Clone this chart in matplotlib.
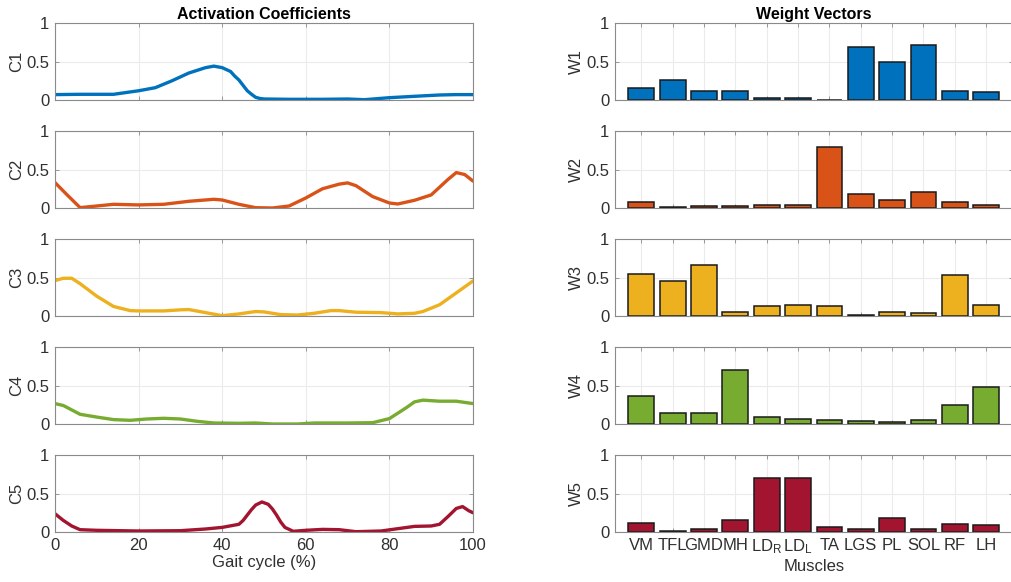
import matplotlib
matplotlib.use("Agg")
import matplotlib.pyplot as plt
import numpy as np

plt.rcParams['font.family'] = ['Liberation Sans', 'DejaVu Sans']
plt.rcParams['mathtext.default'] = 'regular'

# activation coefficients over the gait cycle (%), one series per synergy
c1_x = [0, 6, 14, 20, 24, 28, 32, 36, 38, 40, 42, 43, 44, 45, 46, 47, 48, 49, 50, 56, 64, 70,
        74, 80, 86, 92, 96, 100]
c1_y = [0.07, 0.074, 0.074, 0.12, 0.16, 0.25, 0.35, 0.42, 0.44, 0.42, 0.37, 0.31, 0.26, 0.19,
        0.12, 0.075, 0.035, 0.02, 0.013, 0.009, 0.009, 0.013, 0.004, 0.03, 0.048, 0.065, 0.07, 0.07]

c2_x = [0, 3, 6, 10, 14, 20, 26, 32, 38, 40, 44, 48, 52, 56, 60, 64, 68, 70, 72, 76, 80, 82,
        86, 90, 94, 96, 98, 100]
c2_y = [0.33, 0.165, 0.005, 0.026, 0.048, 0.04, 0.048, 0.087, 0.113, 0.104, 0.048, 0.004, 0.0,
        0.026, 0.13, 0.25, 0.31, 0.326, 0.29, 0.148, 0.065, 0.052, 0.1, 0.17, 0.37, 0.46, 0.435, 0.35]

c3_x = [0, 2, 4, 6, 10, 14, 18, 20, 26, 30, 32, 36, 40, 44, 48, 50, 54, 58, 62, 66, 68, 72,
        78, 82, 86, 88, 92, 96, 100]
c3_y = [0.46, 0.49, 0.49, 0.42, 0.257, 0.124, 0.07, 0.066, 0.066, 0.08, 0.084, 0.044, 0.004,
        0.027, 0.058, 0.053, 0.018, 0.013, 0.035, 0.07, 0.07, 0.049, 0.044, 0.027, 0.035, 0.058,
        0.146, 0.3, 0.455]

c4_x = [0, 2, 6, 10, 14, 18, 22, 26, 30, 34, 38, 44, 48, 52, 58, 62, 70, 76, 80, 84, 86, 88,
        92, 96, 100]
c4_y = [0.265, 0.24, 0.126, 0.09, 0.057, 0.048, 0.065, 0.074, 0.065, 0.035, 0.013, 0.009, 0.013,
        0.0, 0.0, 0.013, 0.013, 0.017, 0.07, 0.21, 0.287, 0.31, 0.296, 0.296, 0.265]

c5_x = [0, 2, 4, 6, 10, 20, 30, 36, 40, 44, 45, 46, 47, 48, 49.5, 51, 52, 53, 54, 55, 57, 60,
        64, 68, 72, 78, 82, 86, 90, 92, 94, 96, 97.5, 99, 100]
c5_y = [0.237, 0.15, 0.078, 0.03, 0.022, 0.013, 0.017, 0.039, 0.06, 0.1, 0.15, 0.22, 0.29, 0.35,
        0.39, 0.36, 0.3, 0.22, 0.13, 0.06, 0.009, 0.022, 0.034, 0.03, 0.004, 0.013, 0.043, 0.073,
        0.078, 0.1, 0.2, 0.306, 0.33, 0.276, 0.25]

# muscle weights per synergy
muscles = ['VM', 'TFL', 'GMD', 'MH', 'LD$_R$', 'LD$_L$', 'TA', 'LGS', 'PL', 'SOL', 'RF', 'LH']
w1 = [0.16, 0.26, 0.12, 0.115, 0.02, 0.02, 0.005, 0.69, 0.49, 0.71, 0.12, 0.11]
w2 = [0.08, 0.013, 0.03, 0.026, 0.04, 0.043, 0.797, 0.185, 0.108, 0.207, 0.073, 0.034]
w3 = [0.54, 0.45, 0.665, 0.047, 0.125, 0.137, 0.13, 0.017, 0.047, 0.034, 0.536, 0.146]
w4 = [0.366, 0.142, 0.147, 0.707, 0.086, 0.069, 0.047, 0.039, 0.026, 0.052, 0.246, 0.483]
w5 = [0.112, 0.017, 0.034, 0.15, 0.707, 0.707, 0.065, 0.034, 0.185, 0.043, 0.103, 0.086]

curves = [(c1_x, c1_y), (c2_x, c2_y), (c3_x, c3_y), (c4_x, c4_y), (c5_x, c5_y)]
weights = [w1, w2, w3, w4, w5]
colors = ['#0072BD', '#D95319', '#EDB120', '#77AC30', '#A2142F']

W, H = 1011, 582
fig = plt.figure(figsize=(W / 100, H / 100), dpi=100)

tops = [23, 131, 239, 347, 455]
ph = 77
txt = '#303030'
edge = '#8a8a8a'


def style(ax):
    ax.set_ylim(0, 1)
    ax.set_yticks([0, 0.5, 1])
    ax.set_yticklabels(['0', '0.5', '1'])
    ax.grid(True, color='#ebebeb', linewidth=0.8)
    ax.set_axisbelow(True)
    for s in ax.spines.values():
        s.set_color(edge)
        s.set_linewidth(0.8)
    ax.tick_params(direction='in', length=3, width=0.6, color=edge, labelcolor=txt,
                   labelsize=12, top=True, right=True, pad=4)


x_pos = np.arange(1, len(muscles) + 1)
for i in range(5):
    b = 1 - (tops[i] + ph) / H
    # left column: activation coefficients
    ax = fig.add_axes([55 / W, b, (473 - 55) / W, ph / H])
    ax.plot(curves[i][0], curves[i][1], color=colors[i], linewidth=2.4,
            solid_capstyle='round', solid_joinstyle='round')
    ax.set_xlim(0, 100)
    ax.set_xticks([0, 20, 40, 60, 80, 100])
    style(ax)
    ax.set_ylabel('C%d' % (i + 1), fontsize=12, color=txt, labelpad=2)
    if i < 4:
        ax.set_xticklabels([])
    else:
        ax.set_xlabel('Gait cycle (%)', fontsize=12, color=txt, labelpad=2)
    if i == 0:
        ax.set_title('Activation Coefficients', fontsize=11.5, fontweight='bold', color='k', pad=3)

    # right column: weight vectors
    ax2 = fig.add_axes([615 / W, b, (1013 - 615) / W, ph / H])
    ax2.bar(x_pos, weights[i], width=0.82, color=colors[i], edgecolor='#1a1a1a', linewidth=1.1)
    ax2.set_xlim(0.16, 12.86)
    ax2.set_xticks(x_pos)
    style(ax2)
    ax2.set_ylabel('W%d' % (i + 1), fontsize=12, color=txt, labelpad=2)
    if i < 4:
        ax2.set_xticklabels([])
    else:
        ax2.set_xticklabels(muscles)
        ax2.set_xlabel('Muscles', fontsize=12, color=txt, labelpad=2)
    if i == 0:
        ax2.set_title('Weight Vectors', fontsize=11.5, fontweight='bold', color='k', pad=3)

fig.savefig('out.png', dpi=100)
